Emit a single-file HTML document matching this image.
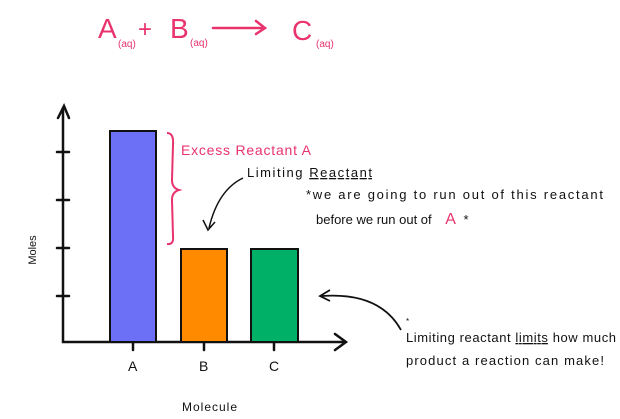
<!DOCTYPE html>
<html><head><meta charset="utf-8"><style>
html,body{margin:0;padding:0;background:#fff;}
svg{display:block;font-family:"Liberation Sans",sans-serif;}
</style></head><body>
<svg width="620" height="419" viewBox="0 0 620 419" xmlns="http://www.w3.org/2000/svg">
<g fill="#e8336d" stroke="none">
<text x="98" y="38" font-size="28">A</text>
<text x="118" y="47" font-size="10">(aq)</text>
<text x="138" y="37" font-size="24">+</text>
<text x="170" y="38" font-size="28">B</text>
<text x="190" y="46" font-size="10">(aq)</text>
<text x="292" y="40" font-size="28">C</text>
<text x="316" y="47" font-size="10">(aq)</text>
</g>
<path d="M213 28 L264 28 M256 21 L265 28 L256 34" stroke="#e8336d" stroke-width="2.5" fill="none" stroke-linecap="round"/>
<g stroke="#111" stroke-width="2.5" fill="none" stroke-linecap="round">
<path d="M63 108 L63 342 L345 342"/>
<path d="M58 118 L64 106 L69 118"/>
<path d="M335 334 L346 342 L335 350"/>
<path d="M57 152 L69 152 M57 200 L69 200 M57 248 L69 248 M57 296 L69 296"/>
<path d="M133 343 L133 350 M204 343 L204 350 M274 343 L274 350"/>
</g>
<rect x="110" y="131" width="46" height="211" fill="#6b70f7" stroke="#111" stroke-width="2"/>
<rect x="181" y="249" width="46" height="93" fill="#ff8a00" stroke="#111" stroke-width="2"/>
<rect x="251" y="249" width="47" height="93" fill="#00b067" stroke="#111" stroke-width="2"/>
<g fill="#111" font-size="14">
<text x="128" y="371">A</text>
<text x="199" y="371">B</text>
<text x="269" y="371">C</text>
<text x="182" y="411" font-size="12" textLength="55">Molecule</text>
<text x="36" y="250" font-size="11" transform="rotate(-90 36 250)" text-anchor="middle">Moles</text>
</g>
<path d="M167 133 Q174 133 173 145 L172 180 Q172 188 179 190 Q172 192 172 200 L173 236 Q174 245 167 244" stroke="#e8336d" stroke-width="2" fill="none"/>
<text x="181" y="155" fill="#e8336d" font-size="14" textLength="130">Excess Reactant A</text>
<text x="247" y="177" fill="#111" font-size="13" textLength="125">Limiting <tspan text-decoration="underline">Reactant</tspan></text>
<path d="M243 178 Q218 190 209 228 M203 220 L208 230 L215 222" stroke="#111" stroke-width="1.5" fill="none"/>
<text x="306" y="199" fill="#111" font-size="13" textLength="297">*we are going to run out of this reactant</text>
<text x="316" y="224" fill="#111" font-size="13">before we run out of <tspan fill="#e8336d" font-size="16" dx="10">A</tspan> <tspan dx="4">*</tspan></text>
<path d="M401 330 Q380 292 322 296 M330 290 L320 296 L330 301" stroke="#111" stroke-width="1.8" fill="none"/>
<text x="406" y="324" fill="#111" font-size="8">*</text>
<text x="406" y="342" fill="#111" font-size="13" textLength="210">Limiting reactant <tspan text-decoration="underline">limits</tspan> how much</text>
<text x="406" y="365" fill="#111" font-size="13" textLength="198">product a reaction can make!</text>
</svg>
</body></html>
